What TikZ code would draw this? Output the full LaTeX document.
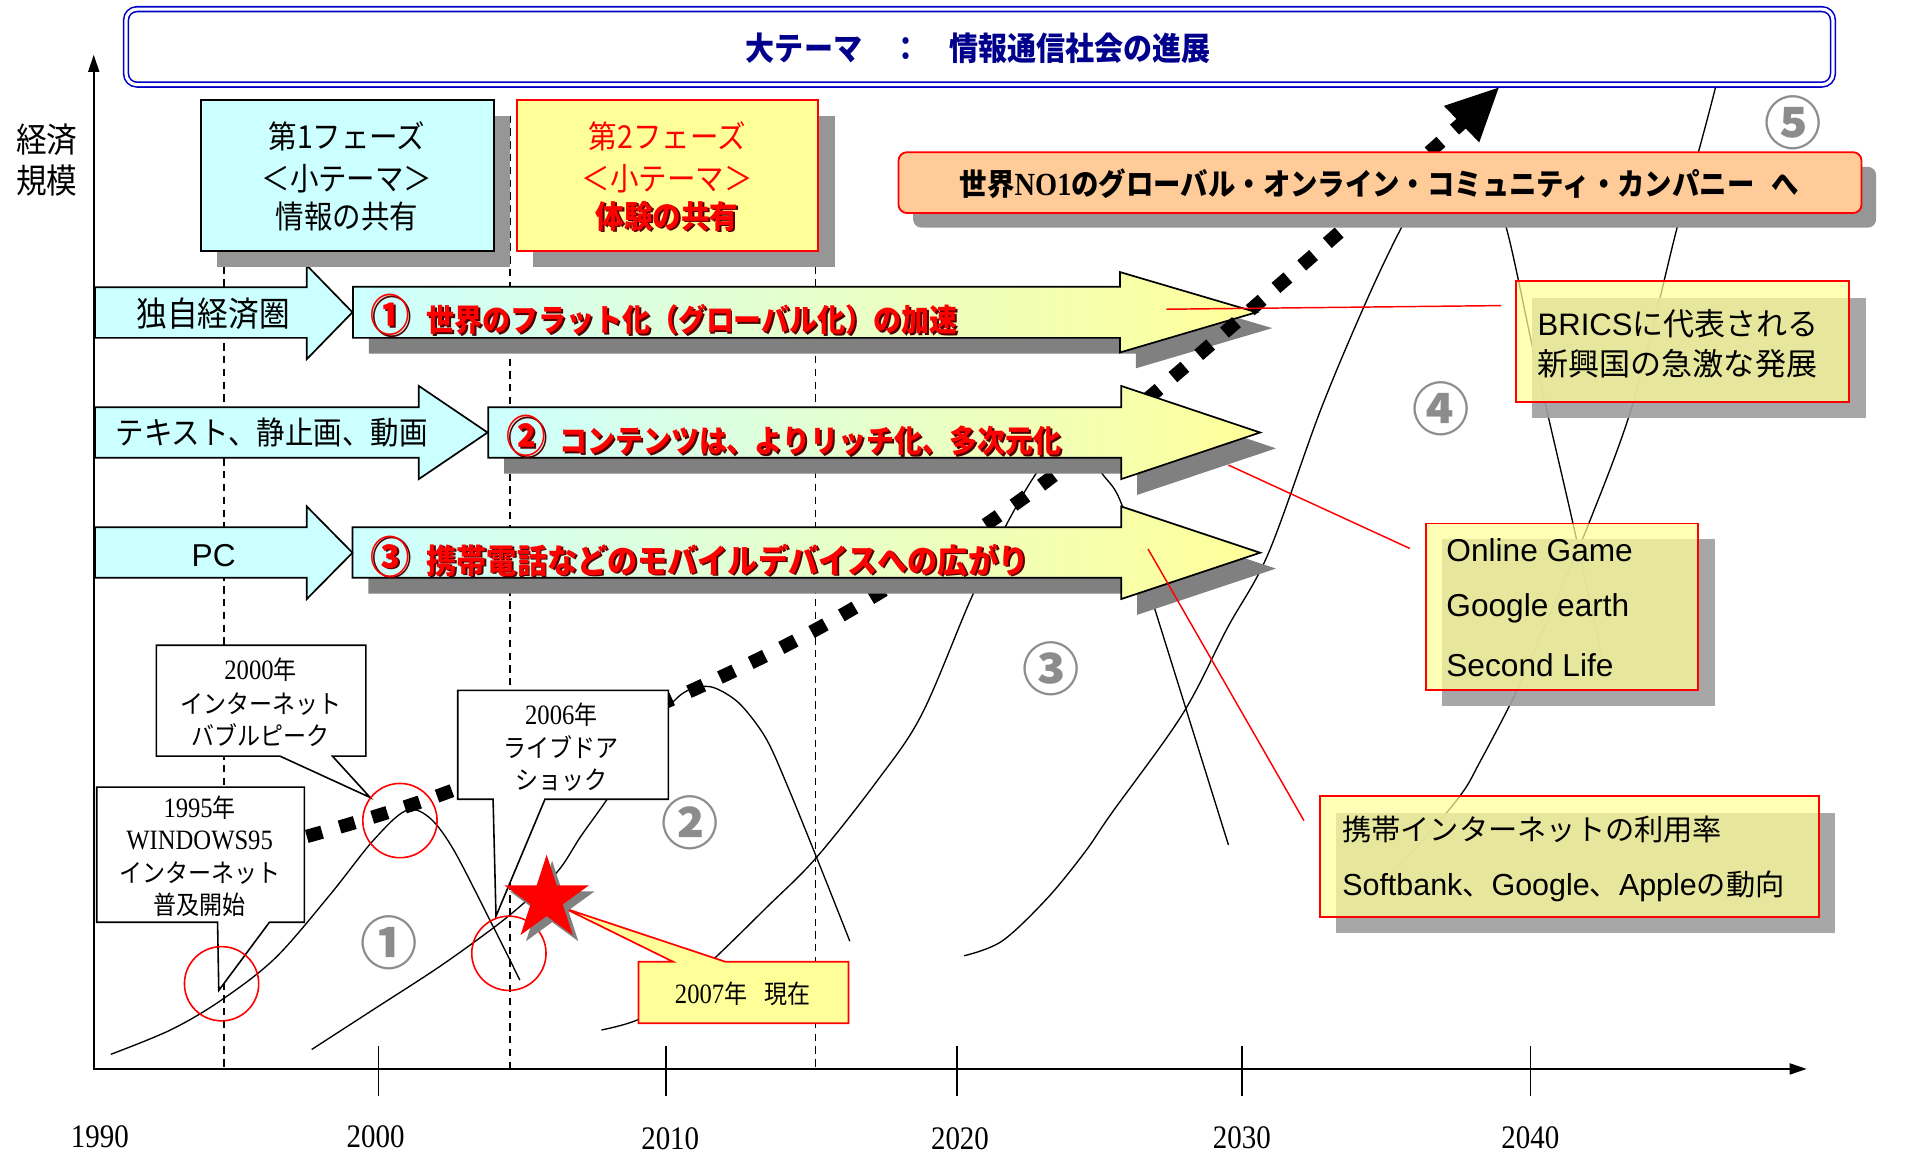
\documentclass[tikz,border=0pt]{standalone}
\usepackage{fontspec}
\setmainfont{Liberation Serif}[FakeStretch=0.88]
\newfontfamily\jp{Noto Sans CJK JP}[FakeStretch=0.9]
\newfontfamily\jpw{Noto Sans CJK JP}
\newfontfamily\arial{Liberation Sans}
\usetikzlibrary{arrows.meta,shapes.geometric}
\newcommand\fsz[1]{\fontsize{#1}{#1}\selectfont}
\newcommand\arrowshape[7]{(#1,#2) -- (#4,#2) -- (#4,#5) -- (#7,{(#5+#6)/2}) -- (#4,#6) -- (#4,#3) -- (#1,#3) -- cycle}
\definecolor{cyanbox}{HTML}{CCFFFF}
\definecolor{yelbox}{HTML}{FFFF99}
\definecolor{orangebox}{HTML}{FFCC99}
\definecolor{shadowA}{HTML}{969696}
\definecolor{shadowB}{HTML}{808080}
\definecolor{shadowC}{HTML}{A0A0A0}
\definecolor{titleblue}{RGB}{0,0,140}
\definecolor{borderblue}{RGB}{0,0,200}
\definecolor{numgray}{HTML}{8C8C8C}
\definecolor{redshade}{RGB}{80,0,0}
\begin{document}
\begin{tikzpicture}[x=1pt,y=-1pt,
 every node/.style={inner sep=0pt,outer sep=0pt},
 curve/.style={line width=1.1pt,line join=round},
 vdash/.style={line width=1.1pt,dash pattern=on 6pt off 4.5pt},
 axisline/.style={line width=1.6pt},
 bigarrow/.style={draw=black,line width=1.4pt,left color=cyanbox,right color=yelbox},
 leftarrow/.style={draw=black,line width=1.4pt,fill=cyanbox},
 arrowshadow/.style={fill=shadowB},
 callout/.style={draw=black,fill=white,line width=1.3pt,line join=miter},
 ring/.style={draw=red,line width=1.3pt,circle,minimum size=61pt},
 infobox/.style={draw=red,line width=1.5pt,fill=yelbox,fill opacity=0.72,anchor=north west},
 infoshadow/.style={fill=shadowC,fill opacity=0.92,anchor=north west},
 boxshadow/.style={fill=shadowA,anchor=north west},
 redlink/.style={red,line width=1.2pt},
 numlabel/.style={text=numgray,font=\jpw\bfseries\fsz{47}},
 yearlabel/.style={font=\rmfamily\fsz{27}},
 dotline/.style={line width=11pt,dash pattern=on 13pt off 15pt},
 arrowtext/.style={anchor=west,font=\jp\bfseries\fsz{25.5}},
 boxtext/.style={anchor=west},
]
\fill[white] (0,0) rectangle (1568,950);
\useasboundingbox (0,0) rectangle (1568,950);

% dashed guide lines
\draw[vdash] (184,219) -- (184,878);
\draw[vdash] (419,95) -- (419,878);
\draw[vdash] (670,219) -- (670,878);

% growth curves
\draw[curve] plot[smooth,tension=0.55] coordinates {(91,866) (140,846) (181,822) (226,787) (271,735) (306,691) (333,666) (352,671) (372,697) (402,755) (427,805)};
\draw[curve] plot[smooth,tension=0.55] coordinates {(256,862) (307,829) (358,796) (396,769) (423,748) (457,717) (477,687) (499,656) (525,616) (549,581) (565,567) (583,564) (600,572) (613,584) (630,608) (647,646) (673,710) (698,773)};
\draw[curve] plot[smooth,tension=0.55] coordinates {(494,846) (525,837) (555,815) (587,787) (630,745) (670,705) (720,642) (757,587) (797,493) (824,436) (851,389) (878,358) (906,390) (922,416) (950,505) (1009,694)};
\draw[curve] plot[smooth,tension=0.55] coordinates {(792,785) (823,773) (860,738) (891,700) (913,668) (971,587) (1008,516) (1042,454) (1085,336) (1122,248) (1150,189) (1175,145) (1198,133) (1222,150) (1238,190) (1262,300) (1292,430) (1316,540)};
\draw[curve] plot[smooth,tension=0.55] coordinates {(1130,730) (1160,700) (1199,654) (1216,625) (1246,567) (1275,500) (1305,430) (1342,329) (1377,189) (1395,125) (1409,72) (1415,45)};

% axes
\coordinate (O) at (77,878);
\coordinate (ytop) at (77,45);
\coordinate (xend) at (1484,878);
\draw[axisline,-{Triangle[length=14pt,width=9pt]}] (77,879) -- (ytop);
\draw[axisline,-{Triangle[length=14pt,width=9pt]}] (76,878) -- (xend);
\foreach \tx in {311,547,786,1020,1257} \draw[line width=1.2pt] (\tx,859) -- (\tx,900);

% arrow 1
\fill[arrowshadow,shift={(13,13)}] \arrowshape{290}{235.5}{277.5}{920}{223.5}{289.5}{1032};
\draw[bigarrow] \arrowshape{290}{235.5}{277.5}{920}{223.5}{289.5}{1032};

% dotted trend line
\draw[dotline] plot[smooth,tension=0.55] coordinates {(252,687) (375,648) (575,564) (709,495) (865,391) (1052,233) (1203,99)};
\fill (1231,72) -- (1186,87) -- (1215,117) -- cycle;

% arrows 2,3
\fill[arrowshadow,shift={(13,13)}] \arrowshape{401}{334.5}{376}{921}{317}{393.5}{1035};
\draw[bigarrow] \arrowshape{401}{334.5}{376}{921}{317}{393.5}{1035};
\fill[arrowshadow,shift={(13,13)}] \arrowshape{289.5}{433}{474.5}{921}{416}{492}{1035};
\draw[bigarrow] \arrowshape{289.5}{433}{474.5}{921}{416}{492}{1035};

% left arrows
\draw[leftarrow] \arrowshape{78}{236}{277.5}{252}{218}{295}{289.5};
\draw[leftarrow] \arrowshape{78}{334.5}{376}{344}{317}{393.5}{400.5};
\draw[leftarrow] \arrowshape{78}{433}{474.5}{252}{416}{492}{289.5};

\node[font=\jp\fsz{28}] (la1) at (175,258) {独自経済圏};
\node[font=\jp\fsz{26}] (la2) at (223,355) {テキスト、静止画、動画};
\node[font=\arial\fsz{26}] (la3) at (175.5,456) {PC};

% arrow texts
\node[arrowtext,text=redshade] (t1s) at (305.6,260.6) {{\fsz{36}①}\hspace{14pt}世界のフラット化（グローバル化）の加速};
\node[arrowtext,text=red] (t1) at (304,259) {{\fsz{36}①}\hspace{14pt}世界のフラット化（グローバル化）の加速};
\node[arrowtext,text=redshade] (t2s) at (417.6,359.6) {{\fsz{36}②}\hspace{11pt}コンテンツは、よりリッチ化、多次元化};
\node[arrowtext,text=red] (t2) at (416,358) {{\fsz{36}②}\hspace{11pt}コンテンツは、よりリッチ化、多次元化};
\node[arrowtext,font=\jp\bfseries\fsz{27.5},text=redshade] (t3s) at (305.6,458.6) {{\fsz{36}③}\hspace{14pt}携帯電話などのモバイルデバイスへの広がり};
\node[arrowtext,font=\jp\bfseries\fsz{27.5},text=red] (t3) at (304,457) {{\fsz{36}③}\hspace{14pt}携帯電話などのモバイルデバイスへの広がり};

% callouts
\draw[callout] (79.5,646.5) -- (250,646.5) -- (250,757.5) -- (221.3,757.5) -- (179.7,813.5) -- (178.7,757.5) -- (79.5,757.5) -- cycle;
\node (c95a) at (164,663.5) {{\fsz{23}1995}{\jp\fsz{21}年}};
\node (c95b) at (164,690) {\fsz{23}WINDOWS95};
\node[font=\jp\fsz{21}] (c95c) at (164,717) {インターネット};
\node[font=\jp\fsz{21}] (c95d) at (164,743.5) {普及開始};

\draw[callout] (128.5,530) -- (300.5,530) -- (300.5,621) -- (273,621) -- (304,655) -- (229.8,621) -- (128.5,621) -- cycle;
\node (c00a) at (214,550) {{\fsz{23}2000}{\jp\fsz{21}年}};
\node[font=\jp\fsz{21}] (c00b) at (214,578) {インターネット};
\node[font=\jp\fsz{21}] (c00c) at (214,604) {バブルピーク};

\draw[callout] (376,567) -- (549,567) -- (549,656.5) -- (447.6,656.5) -- (407.4,752.5) -- (405,656.5) -- (376,656.5) -- cycle;
\node (c06a) at (461,587) {{\fsz{23}2006}{\jp\fsz{21}年}};
\node[font=\jp\fsz{21}] (c06b) at (461,614) {ライブドア};
\node[font=\jp\fsz{21}] (c06c) at (461,640.5) {ショック};

% red rings
\node[ring] (ring95) at (182,808) {};
\node[ring] (ring00) at (328.5,674) {};
\node[ring] (ring05) at (418,783) {};

% current callout and star
\draw[draw=red,fill=yelbox,line width=1.4pt] (524.5,790) -- (553,790) -- (463.6,746) -- (596,790) -- (697,790) -- (697,840.5) -- (524.5,840.5) -- cycle;
\node (c07) at (610,816) {{\fsz{23}2007}{\jp\fsz{21}年\hspace{14pt}現在}};
\node[star,star points=5,star point ratio=2.618,minimum size=73pt,fill=shadowB] (nowS) at (453.5,743.5) {};
\node[star,star points=5,star point ratio=2.618,minimum size=73pt,fill=red] (now) at (449,738.5) {};

% phase boxes
\node[boxshadow,minimum width=241pt,minimum height=124pt] (p1s) at (178,95) {};
\node[draw=black,line width=1.4pt,fill=cyanbox,anchor=north west,minimum width=241pt,minimum height=124pt] (p1) at (165,82) {};
\node[font=\jp\fsz{26}] (p1a) at (285,112) {第1フェーズ};
\node[font=\jp\fsz{26}] (p1b) at (285,146.5) {＜小テーマ＞};
\node[font=\jp\fsz{26}] (p1c) at (285,177.5) {情報の共有};

\node[boxshadow,minimum width=247.5pt,minimum height=124pt] (p2s) at (438,95) {};
\node[draw=red,line width=1.4pt,fill=yelbox,anchor=north west,minimum width=247.5pt,minimum height=124pt] (p2) at (424.5,82) {};
\node[font=\jp\fsz{26},text=red] (p2a) at (548,112) {第2フェーズ};
\node[font=\jp\fsz{26},text=red] (p2b) at (548,146.5) {＜小テーマ＞};
\node[font=\jp\bfseries\fsz{26},text=redshade] (p2cs) at (549.5,179) {体験の共有};
\node[font=\jp\bfseries\fsz{26},text=red] (p2c) at (548,177.5) {体験の共有};

% title
\node[draw=borderblue,double=white,double distance=2.6pt,line width=1.3pt,rounded corners=9pt,fill=white,minimum width=1402pt,minimum height=62pt] (title) at (804.5,38.5) {};
\node[font=\jp\bfseries\fsz{26.5},text=titleblue] (titletext) at (803.5,40) {大テーマ　：　情報通信社会の進展};

% goal box
\node[fill=shadowA,rounded corners=7pt,anchor=north west,minimum width=791pt,minimum height=50pt] (goals) at (750,137) {};
\node[fill=orangebox,draw=red,line width=1.5pt,rounded corners=7pt,anchor=north west,minimum width=791pt,minimum height=50pt] (goal) at (738,125) {};
\node (goaltext) at (1133,150.5) {{\jp\bfseries\fsz{25}世界}{\bfseries\fsz{26.5}NO1}{\jp\bfseries\fsz{25}のグローバル・オンライン・コミュニティ・カンパニー\hspace{14pt}へ}};

% info boxes
\node[infoshadow,minimum width=274pt,minimum height=99pt] (bricss) at (1258.5,244.5) {};
\node[infobox,minimum width=274pt,minimum height=99pt] (brics) at (1245,231) {};
\node[boxtext] (brics1) at (1263,265.5) {{\arial\fsz{25.5}BRICS}{\jpw\fsz{25.5}に代表される}};
\node[boxtext,font=\jpw\fsz{25.5}] (brics2) at (1263,298.5) {新興国の急激な発展};

\node[infoshadow,minimum width=224.5pt,minimum height=137pt] (onlines) at (1184,443) {};
\node[infobox,minimum width=224pt,minimum height=137pt] (online) at (1171,430) {};
\node[boxtext,font=\arial\fsz{26}] (on1) at (1188,452) {Online Game};
\node[boxtext,font=\arial\fsz{26}] (on2) at (1188,500) {Google earth};
\node[boxtext,font=\arial\fsz{26}] (on3) at (1188,546.5) {Second Life};

\node[infoshadow,minimum width=410pt,minimum height=99pt] (mobiles) at (1097,667.5) {};
\node[infobox,minimum width=409.5pt,minimum height=99pt] (mobile) at (1084.5,654) {};
\node[boxtext,font=\jpw\fsz{24}] (mo1) at (1102.5,681.5) {携帯インターネットの利用率};
\node[boxtext] (mo2) at (1102.5,728) {{\arial\fsz{25}Softbank}{\jpw\fsz{24}、}{\arial\fsz{25}Google}{\jpw\fsz{24}、}{\arial\fsz{25}Apple}{\jpw\fsz{24}の動向}};

% red connectors
\coordinate (r1a) at (958,254);
\coordinate (r1b) at (1233,251);
\coordinate (r2a) at (1009,382);
\coordinate (r2b) at (1158,450.5);
\coordinate (r3a) at (943,451);
\coordinate (r3b) at (1071,674);
\draw[redlink] (r1a) -- (r1b);
\draw[redlink] (r2a) -- (r2b);
\draw[redlink] (r3a) -- (r3b);

% circled numbers
\node[numlabel] (n1) at (320,774) {①};
\node[numlabel] (n2) at (567,675.5) {②};
\node[numlabel] (n3) at (863,549) {③};
\node[numlabel] (n4) at (1183.5,335.5) {④};
\node[numlabel] (n5) at (1473,101) {⑤};

% axis labels
\node[font=\jp\fsz{28}] (ylab1) at (38.5,115) {経済};
\node[font=\jp\fsz{28}] (ylab2) at (38.5,148) {規模};
\node[yearlabel] (y1990) at (82,933.5) {1990};
\node[yearlabel] (y2000) at (308.5,933.5) {2000};
\node[yearlabel] (y2010) at (550.5,935) {2010};
\node[yearlabel] (y2020) at (788.5,935) {2020};
\node[yearlabel] (y2030) at (1020,934.5) {2030};
\node[yearlabel] (y2040) at (1257,934.5) {2040};
\end{tikzpicture}
\end{document}
